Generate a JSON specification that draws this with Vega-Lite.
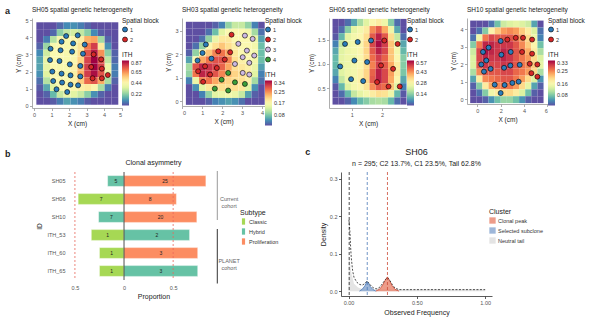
{
"$schema":"https://vega.github.io/schema/vega-lite/v6.json",
"padding":{"left":3,"top":6,"right":2,"bottom":2},
"background":"white",
"config":{
 "font":"Liberation Sans",
 "view":{"stroke":null},
 "axis":{"grid":false,"labelFontSize":5.5,"titleFontSize":6.5,"labelColor":"#555","titleColor":"#222","titleFontWeight":"normal","domainColor":"#999","tickColor":"#999","tickSize":2.5,"labelPadding":1.5,"titlePadding":3,"domainWidth":0.8,"tickWidth":0.8},
 "legend":{"titleFontSize":6.5,"labelFontSize":5.5,"titleFontWeight":"normal","titleColor":"#222","labelColor":"#333","rowPadding":2,"titlePadding":2,"offset":0,"padding":0,"symbolSize":25,"gradientLength":45,"gradientThickness":7,"labelOffset":2},
 "title":{"fontSize":6.5,"fontWeight":"normal","color":"#222"}
},
"datasets":{
"none":[],
"p1":[{"x":1.83,"y":4.07,"b":"1"},{"x":2.49,"y":4.11,"b":"1"},{"x":1.57,"y":3.74,"b":"1"},{"x":2.23,"y":3.64,"b":"1"},{"x":2.89,"y":3.57,"b":"1"},{"x":0.94,"y":3.33,"b":"1"},{"x":1.51,"y":3.24,"b":"1"},{"x":2.17,"y":3.16,"b":"1"},{"x":2.79,"y":3.04,"b":"1"},{"x":0.91,"y":2.67,"b":"1"},{"x":1.45,"y":2.62,"b":"1"},{"x":2.04,"y":2.42,"b":"1"},{"x":2.64,"y":2.33,"b":"1"},{"x":1.04,"y":2.0,"b":"1"},{"x":1.57,"y":1.88,"b":"1"},{"x":2.08,"y":1.78,"b":"1"},{"x":2.64,"y":1.72,"b":"1"},{"x":1.09,"y":1.45,"b":"1"},{"x":1.6,"y":1.36,"b":"1"},{"x":2.08,"y":1.24,"b":"1"},{"x":2.51,"y":1.2,"b":"1"},{"x":1.28,"y":0.97,"b":"1"},{"x":1.89,"y":0.81,"b":"1"},
{"x":3.4,"y":3.0,"b":"2"},{"x":3.83,"y":2.71,"b":"2"},{"x":3.26,"y":2.27,"b":"2"},{"x":3.87,"y":2.17,"b":"2"},{"x":4.21,"y":1.8,"b":"2"},{"x":3.34,"y":1.61,"b":"2"},{"x":3.87,"y":1.61,"b":"2"}],
"p2":[{"x":1.18,"y":2.42,"b":"1"},{"x":1.01,"y":2.06,"b":"1"},{"x":1.46,"y":1.82,"b":"1"},{"x":0.76,"y":1.74,"b":"1"},
{"x":2.47,"y":2.84,"b":"2"},{"x":1.8,"y":2.13,"b":"2"},{"x":2.4,"y":2.09,"b":"2"},{"x":2.13,"y":1.78,"b":"2"},{"x":1.14,"y":1.49,"b":"2"},{"x":1.73,"y":1.42,"b":"2"},{"x":0.79,"y":1.28,"b":"2"},{"x":1.39,"y":1.14,"b":"2"},{"x":1.04,"y":0.83,"b":"2"},
{"x":3.14,"y":2.8,"b":"3"},{"x":3.53,"y":2.66,"b":"3"},{"x":2.81,"y":2.45,"b":"3"},{"x":3.24,"y":2.16,"b":"3"},{"x":3.03,"y":1.88,"b":"3"},{"x":3.61,"y":1.95,"b":"3"},{"x":3.36,"y":1.64,"b":"3"},{"x":2.64,"y":1.59,"b":"3"},{"x":3.03,"y":1.21,"b":"3"},{"x":3.36,"y":1.14,"b":"3"},
{"x":2.3,"y":1.21,"b":"4"},{"x":1.97,"y":0.92,"b":"4"},{"x":2.64,"y":0.81,"b":"4"},{"x":3.14,"y":0.74,"b":"4"},{"x":1.63,"y":0.54,"b":"4"},{"x":2.3,"y":0.46,"b":"4"}],
"p3":[{"x":0.78,"y":1.41,"b":"1"},{"x":1.2,"y":1.45,"b":"1"},{"x":1.64,"y":1.48,"b":"1"},{"x":1.09,"y":1.07,"b":"1"},{"x":1.51,"y":1.04,"b":"1"},{"x":0.62,"y":0.95,"b":"1"},{"x":0.98,"y":0.69,"b":"1"},{"x":1.38,"y":0.65,"b":"1"},
{"x":2.08,"y":1.48,"b":"2"},{"x":2.52,"y":1.41,"b":"2"},{"x":1.97,"y":0.97,"b":"2"},{"x":2.37,"y":0.9,"b":"2"},{"x":1.84,"y":0.63,"b":"2"},{"x":2.22,"y":0.54,"b":"2"},{"x":2.59,"y":0.54,"b":"2"}],
"p4":[{"x":2.0,"y":3.34,"b":"1"},{"x":0.97,"y":2.96,"b":"1"},{"x":0.49,"y":2.71,"b":"1"},{"x":2.86,"y":2.71,"b":"1"},{"x":2.06,"y":2.55,"b":"1"},{"x":0.77,"y":2.22,"b":"1"},{"x":0.34,"y":1.99,"b":"1"},{"x":1.14,"y":1.74,"b":"1"},{"x":0.57,"y":1.58,"b":"1"},{"x":2.29,"y":1.8,"b":"1"},{"x":2.83,"y":1.93,"b":"1"},{"x":3.63,"y":1.97,"b":"1"},{"x":3.54,"y":1.0,"b":"1"},{"x":3.0,"y":0.93,"b":"1"},{"x":2.34,"y":0.81,"b":"1"},{"x":1.49,"y":0.83,"b":"1"},{"x":2.0,"y":0.35,"b":"1"},
{"x":2.57,"y":3.42,"b":"2"},{"x":3.29,"y":3.52,"b":"2"},{"x":3.91,"y":3.52,"b":"2"},{"x":4.69,"y":3.42,"b":"2"},{"x":3.83,"y":2.71,"b":"2"},{"x":4.69,"y":2.61,"b":"2"},{"x":4.49,"y":2.03,"b":"2"},{"x":5.14,"y":1.99,"b":"2"},{"x":4.63,"y":1.49,"b":"2"},{"x":5.14,"y":1.29,"b":"2"}],
"h1":[
{"x":0.1,"y":4.5,"v":0},{"x":0.49,"y":4.5,"v":0},{"x":0.88,"y":4.5,"v":0},{"x":1.27,"y":4.5,"v":0.04},{"x":1.66,"y":4.5,"v":0.09},{"x":2.05,"y":4.5,"v":0.1},{"x":2.44,"y":4.5,"v":0.07},{"x":2.83,"y":4.5,"v":0.03},{"x":3.22,"y":4.5,"v":0},{"x":3.61,"y":4.5,"v":0},{"x":4.0,"y":4.5,"v":0},{"x":4.39,"y":4.5,"v":0},
{"x":0.1,"y":4.1,"v":0},{"x":0.49,"y":4.1,"v":0},{"x":0.88,"y":4.1,"v":0.04},{"x":1.27,"y":4.1,"v":0.22},{"x":1.66,"y":4.1,"v":0.3},{"x":2.05,"y":4.1,"v":0.33},{"x":2.44,"y":4.1,"v":0.3},{"x":2.83,"y":4.1,"v":0.22},{"x":3.22,"y":4.1,"v":0.09},{"x":3.61,"y":4.1,"v":0.02},{"x":4.0,"y":4.1,"v":0},{"x":4.39,"y":4.1,"v":0},
{"x":0.1,"y":3.7,"v":0},{"x":0.49,"y":3.7,"v":0.07},{"x":0.88,"y":3.7,"v":0.28},{"x":1.27,"y":3.7,"v":0.42},{"x":1.66,"y":3.7,"v":0.43},{"x":2.05,"y":3.7,"v":0.44},{"x":2.44,"y":3.7,"v":0.47},{"x":2.83,"y":3.7,"v":0.6},{"x":3.22,"y":3.7,"v":0.62},{"x":3.61,"y":3.7,"v":0.25},{"x":4.0,"y":3.7,"v":0.03},{"x":4.39,"y":3.7,"v":0},
{"x":0.1,"y":3.3,"v":0.03},{"x":0.49,"y":3.3,"v":0.24},{"x":0.88,"y":3.3,"v":0.42},{"x":1.27,"y":3.3,"v":0.44},{"x":1.66,"y":3.3,"v":0.43},{"x":2.05,"y":3.3,"v":0.44},{"x":2.44,"y":3.3,"v":0.5},{"x":2.83,"y":3.3,"v":0.68},{"x":3.22,"y":3.3,"v":0.78},{"x":3.61,"y":3.3,"v":0.48},{"x":4.0,"y":3.3,"v":0.1},{"x":4.39,"y":3.3,"v":0},
{"x":0.1,"y":2.9,"v":0.09},{"x":0.49,"y":2.9,"v":0.32},{"x":0.88,"y":2.9,"v":0.43},{"x":1.27,"y":2.9,"v":0.43},{"x":1.66,"y":2.9,"v":0.42},{"x":2.05,"y":2.9,"v":0.43},{"x":2.44,"y":2.9,"v":0.52},{"x":2.83,"y":2.9,"v":0.74},{"x":3.22,"y":2.9,"v":0.83},{"x":3.61,"y":2.9,"v":0.65},{"x":4.0,"y":2.9,"v":0.22},{"x":4.39,"y":2.9,"v":0.03},
{"x":0.1,"y":2.5,"v":0.13},{"x":0.49,"y":2.5,"v":0.37},{"x":0.88,"y":2.5,"v":0.43},{"x":1.27,"y":2.5,"v":0.42},{"x":1.66,"y":2.5,"v":0.42},{"x":2.05,"y":2.5,"v":0.44},{"x":2.44,"y":2.5,"v":0.54},{"x":2.83,"y":2.5,"v":0.77},{"x":3.22,"y":2.5,"v":0.87},{"x":3.61,"y":2.5,"v":0.74},{"x":4.0,"y":2.5,"v":0.3},{"x":4.39,"y":2.5,"v":0.04},
{"x":0.1,"y":2.1,"v":0.13},{"x":0.49,"y":2.1,"v":0.37},{"x":0.88,"y":2.1,"v":0.43},{"x":1.27,"y":2.1,"v":0.42},{"x":1.66,"y":2.1,"v":0.42},{"x":2.05,"y":2.1,"v":0.46},{"x":2.44,"y":2.1,"v":0.58},{"x":2.83,"y":2.1,"v":0.78},{"x":3.22,"y":2.1,"v":0.87},{"x":3.61,"y":2.1,"v":0.77},{"x":4.0,"y":2.1,"v":0.39},{"x":4.39,"y":2.1,"v":0.07},
{"x":0.1,"y":1.7,"v":0.1},{"x":0.49,"y":1.7,"v":0.35},{"x":0.88,"y":1.7,"v":0.43},{"x":1.27,"y":1.7,"v":0.42},{"x":1.66,"y":1.7,"v":0.42},{"x":2.05,"y":1.7,"v":0.46},{"x":2.44,"y":1.7,"v":0.6},{"x":2.83,"y":1.7,"v":0.78},{"x":3.22,"y":1.7,"v":0.85},{"x":3.61,"y":1.7,"v":0.74},{"x":4.0,"y":1.7,"v":0.39},{"x":4.39,"y":1.7,"v":0.07},
{"x":0.1,"y":1.3,"v":0.05},{"x":0.49,"y":1.3,"v":0.28},{"x":0.88,"y":1.3,"v":0.42},{"x":1.27,"y":1.3,"v":0.43},{"x":1.66,"y":1.3,"v":0.43},{"x":2.05,"y":1.3,"v":0.46},{"x":2.44,"y":1.3,"v":0.55},{"x":2.83,"y":1.3,"v":0.71},{"x":3.22,"y":1.3,"v":0.74},{"x":3.61,"y":1.3,"v":0.61},{"x":4.0,"y":1.3,"v":0.26},{"x":4.39,"y":1.3,"v":0.03},
{"x":0.1,"y":0.9,"v":0.02},{"x":0.49,"y":0.9,"v":0.14},{"x":0.88,"y":0.9,"v":0.35},{"x":1.27,"y":0.9,"v":0.43},{"x":1.66,"y":0.9,"v":0.43},{"x":2.05,"y":0.9,"v":0.44},{"x":2.44,"y":0.9,"v":0.46},{"x":2.83,"y":0.9,"v":0.48},{"x":3.22,"y":0.9,"v":0.44},{"x":3.61,"y":0.9,"v":0.26},{"x":4.0,"y":0.9,"v":0.07},{"x":4.39,"y":0.9,"v":0},
{"x":0.1,"y":0.5,"v":0},{"x":0.49,"y":0.5,"v":0.03},{"x":0.88,"y":0.5,"v":0.17},{"x":1.27,"y":0.5,"v":0.31},{"x":1.66,"y":0.5,"v":0.38},{"x":2.05,"y":0.5,"v":0.36},{"x":2.44,"y":0.5,"v":0.31},{"x":2.83,"y":0.5,"v":0.22},{"x":3.22,"y":0.5,"v":0.1},{"x":3.61,"y":0.5,"v":0.03},{"x":4.0,"y":0.5,"v":0},{"x":4.39,"y":0.5,"v":0},
{"x":0.1,"y":0.1,"v":0},{"x":0.49,"y":0.1,"v":0},{"x":0.88,"y":0.1,"v":0.02},{"x":1.27,"y":0.1,"v":0.07},{"x":1.66,"y":0.1,"v":0.13},{"x":2.05,"y":0.1,"v":0.1},{"x":2.44,"y":0.1,"v":0.07},{"x":2.83,"y":0.1,"v":0.02},{"x":3.22,"y":0.1,"v":0},{"x":3.61,"y":0.1,"v":0},{"x":4.0,"y":0.1,"v":0},{"x":4.39,"y":0.1,"v":0}],
"h2":[
{"x":0.15,"y":3.115,"v":0},{"x":0.48,"y":3.115,"v":0},{"x":0.81,"y":3.115,"v":0},{"x":1.14,"y":3.115,"v":0},{"x":1.47,"y":3.115,"v":0.01},{"x":1.8,"y":3.115,"v":0.03},{"x":2.13,"y":3.115,"v":0.09},{"x":2.46,"y":3.115,"v":0.12},{"x":2.79,"y":3.115,"v":0.12},{"x":3.12,"y":3.115,"v":0.09},{"x":3.45,"y":3.115,"v":0.03},{"x":3.78,"y":3.115,"v":0},
{"x":0.15,"y":2.82,"v":0},{"x":0.48,"y":2.82,"v":0},{"x":0.81,"y":2.82,"v":0},{"x":1.14,"y":2.82,"v":0.02},{"x":1.47,"y":2.82,"v":0.07},{"x":1.8,"y":2.82,"v":0.14},{"x":2.13,"y":2.82,"v":0.17},{"x":2.46,"y":2.82,"v":0.17},{"x":2.79,"y":2.82,"v":0.17},{"x":3.12,"y":2.82,"v":0.16},{"x":3.45,"y":2.82,"v":0.1},{"x":3.78,"y":2.82,"v":0.02},
{"x":0.15,"y":2.525,"v":0},{"x":0.48,"y":2.525,"v":0},{"x":0.81,"y":2.525,"v":0.02},{"x":1.14,"y":2.525,"v":0.09},{"x":1.47,"y":2.525,"v":0.15},{"x":1.8,"y":2.525,"v":0.19},{"x":2.13,"y":2.525,"v":0.19},{"x":2.46,"y":2.525,"v":0.17},{"x":2.79,"y":2.525,"v":0.17},{"x":3.12,"y":2.525,"v":0.17},{"x":3.45,"y":2.525,"v":0.15},{"x":3.78,"y":2.525,"v":0.05},
{"x":0.15,"y":2.23,"v":0},{"x":0.48,"y":2.23,"v":0.02},{"x":0.81,"y":2.23,"v":0.09},{"x":1.14,"y":2.23,"v":0.17},{"x":1.47,"y":2.23,"v":0.2},{"x":1.8,"y":2.23,"v":0.22},{"x":2.13,"y":2.23,"v":0.2},{"x":2.46,"y":2.23,"v":0.18},{"x":2.79,"y":2.23,"v":0.17},{"x":3.12,"y":2.23,"v":0.17},{"x":3.45,"y":2.23,"v":0.16},{"x":3.78,"y":2.23,"v":0.07},
{"x":0.15,"y":1.935,"v":0.01},{"x":0.48,"y":1.935,"v":0.09},{"x":0.81,"y":1.935,"v":0.17},{"x":1.14,"y":1.935,"v":0.22},{"x":1.47,"y":1.935,"v":0.26},{"x":1.8,"y":1.935,"v":0.27},{"x":2.13,"y":1.935,"v":0.24},{"x":2.46,"y":1.935,"v":0.19},{"x":2.79,"y":1.935,"v":0.17},{"x":3.12,"y":1.935,"v":0.17},{"x":3.45,"y":1.935,"v":0.16},{"x":3.78,"y":1.935,"v":0.07},
{"x":0.15,"y":1.64,"v":0.05},{"x":0.48,"y":1.64,"v":0.17},{"x":0.81,"y":1.64,"v":0.24},{"x":1.14,"y":1.64,"v":0.27},{"x":1.47,"y":1.64,"v":0.29},{"x":1.8,"y":1.64,"v":0.29},{"x":2.13,"y":1.64,"v":0.26},{"x":2.46,"y":1.64,"v":0.2},{"x":2.79,"y":1.64,"v":0.18},{"x":3.12,"y":1.64,"v":0.17},{"x":3.45,"y":1.64,"v":0.16},{"x":3.78,"y":1.64,"v":0.07},
{"x":0.15,"y":1.345,"v":0.1},{"x":0.48,"y":1.345,"v":0.29},{"x":0.81,"y":1.345,"v":0.32},{"x":1.14,"y":1.345,"v":0.31},{"x":1.47,"y":1.345,"v":0.3},{"x":1.8,"y":1.345,"v":0.28},{"x":2.13,"y":1.345,"v":0.24},{"x":2.46,"y":1.345,"v":0.2},{"x":2.79,"y":1.345,"v":0.19},{"x":3.12,"y":1.345,"v":0.18},{"x":3.45,"y":1.345,"v":0.15},{"x":3.78,"y":1.345,"v":0.05},
{"x":0.15,"y":1.05,"v":0.09},{"x":0.48,"y":1.05,"v":0.27},{"x":0.81,"y":1.05,"v":0.32},{"x":1.14,"y":1.05,"v":0.31},{"x":1.47,"y":1.05,"v":0.29},{"x":1.8,"y":1.05,"v":0.26},{"x":2.13,"y":1.05,"v":0.23},{"x":2.46,"y":1.05,"v":0.21},{"x":2.79,"y":1.05,"v":0.2},{"x":3.12,"y":1.05,"v":0.19},{"x":3.45,"y":1.05,"v":0.14},{"x":3.78,"y":1.05,"v":0.03},
{"x":0.15,"y":0.755,"v":0.03},{"x":0.48,"y":0.755,"v":0.15},{"x":0.81,"y":0.755,"v":0.26},{"x":1.14,"y":0.755,"v":0.27},{"x":1.47,"y":0.755,"v":0.24},{"x":1.8,"y":0.755,"v":0.22},{"x":2.13,"y":0.755,"v":0.21},{"x":2.46,"y":0.755,"v":0.2},{"x":2.79,"y":0.755,"v":0.2},{"x":3.12,"y":0.755,"v":0.18},{"x":3.45,"y":0.755,"v":0.1},{"x":3.78,"y":0.755,"v":0.02},
{"x":0.15,"y":0.46,"v":0},{"x":0.48,"y":0.46,"v":0.04},{"x":0.81,"y":0.46,"v":0.14},{"x":1.14,"y":0.46,"v":0.19},{"x":1.47,"y":0.46,"v":0.2},{"x":1.8,"y":0.46,"v":0.2},{"x":2.13,"y":0.46,"v":0.2},{"x":2.46,"y":0.46,"v":0.2},{"x":2.79,"y":0.46,"v":0.19},{"x":3.12,"y":0.46,"v":0.14},{"x":3.45,"y":0.46,"v":0.04},{"x":3.78,"y":0.46,"v":0},
{"x":0.15,"y":0.165,"v":0},{"x":0.48,"y":0.165,"v":0},{"x":0.81,"y":0.165,"v":0.03},{"x":1.14,"y":0.165,"v":0.09},{"x":1.47,"y":0.165,"v":0.14},{"x":1.8,"y":0.165,"v":0.15},{"x":2.13,"y":0.165,"v":0.16},{"x":2.46,"y":0.165,"v":0.15},{"x":2.79,"y":0.165,"v":0.12},{"x":3.12,"y":0.165,"v":0.05},{"x":3.45,"y":0.165,"v":0.01},{"x":3.78,"y":0.165,"v":0},
{"x":0.15,"y":-0.13,"v":0},{"x":0.48,"y":-0.13,"v":0},{"x":0.81,"y":-0.13,"v":0},{"x":1.14,"y":-0.13,"v":0.01},{"x":1.47,"y":-0.13,"v":0.03},{"x":1.8,"y":-0.13,"v":0.04},{"x":2.13,"y":-0.13,"v":0.05},{"x":2.46,"y":-0.13,"v":0.04},{"x":2.79,"y":-0.13,"v":0.02},{"x":3.12,"y":-0.13,"v":0},{"x":3.45,"y":-0.13,"v":0},{"x":3.78,"y":-0.13,"v":0}],
"h3":[
{"x":0.35,"y":1.786,"v":0},{"x":0.554,"y":1.786,"v":0},{"x":0.758,"y":1.786,"v":0.03},{"x":0.962,"y":1.786,"v":0.09},{"x":1.166,"y":1.786,"v":0.17},{"x":1.37,"y":1.786,"v":0.23},{"x":1.574,"y":1.786,"v":0.29},{"x":1.778,"y":1.786,"v":0.31},{"x":1.982,"y":1.786,"v":0.26},{"x":2.186,"y":1.786,"v":0.14},{"x":2.39,"y":1.786,"v":0.03},{"x":2.594,"y":1.786,"v":0},
{"x":0.35,"y":1.64,"v":0},{"x":0.554,"y":1.64,"v":0.03},{"x":0.758,"y":1.64,"v":0.14},{"x":0.962,"y":1.64,"v":0.24},{"x":1.166,"y":1.64,"v":0.27},{"x":1.37,"y":1.64,"v":0.31},{"x":1.574,"y":1.64,"v":0.43},{"x":1.778,"y":1.64,"v":0.48},{"x":1.982,"y":1.64,"v":0.4},{"x":2.186,"y":1.64,"v":0.26},{"x":2.39,"y":1.64,"v":0.09},{"x":2.594,"y":1.64,"v":0},
{"x":0.35,"y":1.494,"v":0.01},{"x":0.554,"y":1.494,"v":0.11},{"x":0.758,"y":1.494,"v":0.24},{"x":0.962,"y":1.494,"v":0.27},{"x":1.166,"y":1.494,"v":0.29},{"x":1.37,"y":1.494,"v":0.34},{"x":1.574,"y":1.494,"v":0.48},{"x":1.778,"y":1.494,"v":0.54},{"x":1.982,"y":1.494,"v":0.48},{"x":2.186,"y":1.494,"v":0.34},{"x":2.39,"y":1.494,"v":0.2},{"x":2.594,"y":1.494,"v":0.03},
{"x":0.35,"y":1.348,"v":0.05},{"x":0.554,"y":1.348,"v":0.2},{"x":0.758,"y":1.348,"v":0.26},{"x":0.962,"y":1.348,"v":0.27},{"x":1.166,"y":1.348,"v":0.29},{"x":1.37,"y":1.348,"v":0.35},{"x":1.574,"y":1.348,"v":0.5},{"x":1.778,"y":1.348,"v":0.56},{"x":1.982,"y":1.348,"v":0.51},{"x":2.186,"y":1.348,"v":0.37},{"x":2.39,"y":1.348,"v":0.26},{"x":2.594,"y":1.348,"v":0.09},
{"x":0.35,"y":1.202,"v":0.09},{"x":0.554,"y":1.202,"v":0.23},{"x":0.758,"y":1.202,"v":0.26},{"x":0.962,"y":1.202,"v":0.27},{"x":1.166,"y":1.202,"v":0.29},{"x":1.37,"y":1.202,"v":0.35},{"x":1.574,"y":1.202,"v":0.48},{"x":1.778,"y":1.202,"v":0.54},{"x":1.982,"y":1.202,"v":0.5},{"x":2.186,"y":1.202,"v":0.37},{"x":2.39,"y":1.202,"v":0.27},{"x":2.594,"y":1.202,"v":0.11},
{"x":0.35,"y":1.056,"v":0.11},{"x":0.554,"y":1.056,"v":0.24},{"x":0.758,"y":1.056,"v":0.26},{"x":0.962,"y":1.056,"v":0.26},{"x":1.166,"y":1.056,"v":0.29},{"x":1.37,"y":1.056,"v":0.34},{"x":1.574,"y":1.056,"v":0.46},{"x":1.778,"y":1.056,"v":0.51},{"x":1.982,"y":1.056,"v":0.47},{"x":2.186,"y":1.056,"v":0.37},{"x":2.39,"y":1.056,"v":0.29},{"x":2.594,"y":1.056,"v":0.14},
{"x":0.35,"y":0.91,"v":0.11},{"x":0.554,"y":0.91,"v":0.24},{"x":0.758,"y":0.91,"v":0.26},{"x":0.962,"y":0.91,"v":0.27},{"x":1.166,"y":0.91,"v":0.29},{"x":1.37,"y":0.91,"v":0.34},{"x":1.574,"y":0.91,"v":0.44},{"x":1.778,"y":0.91,"v":0.51},{"x":1.982,"y":0.91,"v":0.48},{"x":2.186,"y":0.91,"v":0.4},{"x":2.39,"y":0.91,"v":0.31},{"x":2.594,"y":0.91,"v":0.14},
{"x":0.35,"y":0.764,"v":0.09},{"x":0.554,"y":0.764,"v":0.23},{"x":0.758,"y":0.764,"v":0.26},{"x":0.962,"y":0.764,"v":0.27},{"x":1.166,"y":0.764,"v":0.3},{"x":1.37,"y":0.764,"v":0.35},{"x":1.574,"y":0.764,"v":0.47},{"x":1.778,"y":0.764,"v":0.54},{"x":1.982,"y":0.764,"v":0.5},{"x":2.186,"y":0.764,"v":0.41},{"x":2.39,"y":0.764,"v":0.31},{"x":2.594,"y":0.764,"v":0.13},
{"x":0.35,"y":0.618,"v":0.05},{"x":0.554,"y":0.618,"v":0.2},{"x":0.758,"y":0.618,"v":0.26},{"x":0.962,"y":0.618,"v":0.27},{"x":1.166,"y":0.618,"v":0.3},{"x":1.37,"y":0.618,"v":0.35},{"x":1.574,"y":0.618,"v":0.48},{"x":1.778,"y":0.618,"v":0.54},{"x":1.982,"y":0.618,"v":0.5},{"x":2.186,"y":0.618,"v":0.4},{"x":2.39,"y":0.618,"v":0.29},{"x":2.594,"y":0.618,"v":0.09},
{"x":0.35,"y":0.472,"v":0.01},{"x":0.554,"y":0.472,"v":0.11},{"x":0.758,"y":0.472,"v":0.23},{"x":0.962,"y":0.472,"v":0.27},{"x":1.166,"y":0.472,"v":0.29},{"x":1.37,"y":0.472,"v":0.33},{"x":1.574,"y":0.472,"v":0.43},{"x":1.778,"y":0.472,"v":0.48},{"x":1.982,"y":0.472,"v":0.46},{"x":2.186,"y":0.472,"v":0.37},{"x":2.39,"y":0.472,"v":0.23},{"x":2.594,"y":0.472,"v":0.05},
{"x":0.35,"y":0.326,"v":0},{"x":0.554,"y":0.326,"v":0.03},{"x":0.758,"y":0.326,"v":0.11},{"x":0.962,"y":0.326,"v":0.2},{"x":1.166,"y":0.326,"v":0.24},{"x":1.37,"y":0.326,"v":0.27},{"x":1.574,"y":0.326,"v":0.31},{"x":1.778,"y":0.326,"v":0.34},{"x":1.982,"y":0.326,"v":0.33},{"x":2.186,"y":0.326,"v":0.26},{"x":2.39,"y":0.326,"v":0.11},{"x":2.594,"y":0.326,"v":0.01},
{"x":0.35,"y":0.18,"v":0},{"x":0.554,"y":0.18,"v":0},{"x":0.758,"y":0.18,"v":0.02},{"x":0.962,"y":0.18,"v":0.06},{"x":1.166,"y":0.18,"v":0.11},{"x":1.37,"y":0.18,"v":0.14},{"x":1.574,"y":0.18,"v":0.17},{"x":1.778,"y":0.18,"v":0.18},{"x":1.982,"y":0.18,"v":0.17},{"x":2.186,"y":0.18,"v":0.11},{"x":2.39,"y":0.18,"v":0.03},{"x":2.594,"y":0.18,"v":0}],
"h4":[
{"x":-0.65,"y":4.145,"v":0},{"x":-0.127,"y":4.145,"v":0},{"x":0.396,"y":4.145,"v":0},{"x":0.919,"y":4.145,"v":0.02},{"x":1.442,"y":4.145,"v":0.07},{"x":1.965,"y":4.145,"v":0.12},{"x":2.488,"y":4.145,"v":0.13},{"x":3.011,"y":4.145,"v":0.14},{"x":3.534,"y":4.145,"v":0.13},{"x":4.057,"y":4.145,"v":0.12},{"x":4.58,"y":4.145,"v":0.05},{"x":5.103,"y":4.145,"v":0},
{"x":-0.65,"y":3.75,"v":0},{"x":-0.127,"y":3.75,"v":0.02},{"x":0.396,"y":3.75,"v":0.08},{"x":0.919,"y":3.75,"v":0.17},{"x":1.442,"y":3.75,"v":0.21},{"x":1.965,"y":3.75,"v":0.24},{"x":2.488,"y":3.75,"v":0.25},{"x":3.011,"y":3.75,"v":0.24},{"x":3.534,"y":3.75,"v":0.21},{"x":4.057,"y":3.75,"v":0.18},{"x":4.58,"y":3.75,"v":0.13},{"x":5.103,"y":3.75,"v":0.02},
{"x":-0.65,"y":3.355,"v":0.02},{"x":-0.127,"y":3.355,"v":0.15},{"x":0.396,"y":3.355,"v":0.26},{"x":0.919,"y":3.355,"v":0.29},{"x":1.442,"y":3.355,"v":0.28},{"x":1.965,"y":3.355,"v":0.28},{"x":2.488,"y":3.355,"v":0.28},{"x":3.011,"y":3.355,"v":0.26},{"x":3.534,"y":3.355,"v":0.24},{"x":4.057,"y":3.355,"v":0.2},{"x":4.58,"y":3.355,"v":0.15},{"x":5.103,"y":3.355,"v":0.03},
{"x":-0.65,"y":2.96,"v":0.08},{"x":-0.127,"y":2.96,"v":0.26},{"x":0.396,"y":2.96,"v":0.31},{"x":0.919,"y":2.96,"v":0.31},{"x":1.442,"y":2.96,"v":0.3},{"x":1.965,"y":2.96,"v":0.3},{"x":2.488,"y":2.96,"v":0.3},{"x":3.011,"y":2.96,"v":0.28},{"x":3.534,"y":2.96,"v":0.25},{"x":4.057,"y":2.96,"v":0.21},{"x":4.58,"y":2.96,"v":0.17},{"x":5.103,"y":2.96,"v":0.07},
{"x":-0.65,"y":2.565,"v":0.12},{"x":-0.127,"y":2.565,"v":0.29},{"x":0.396,"y":2.565,"v":0.32},{"x":0.919,"y":2.565,"v":0.31},{"x":1.442,"y":2.565,"v":0.3},{"x":1.965,"y":2.565,"v":0.31},{"x":2.488,"y":2.565,"v":0.3},{"x":3.011,"y":2.565,"v":0.28},{"x":3.534,"y":2.565,"v":0.26},{"x":4.057,"y":2.565,"v":0.23},{"x":4.58,"y":2.565,"v":0.18},{"x":5.103,"y":2.565,"v":0.1},
{"x":-0.65,"y":2.17,"v":0.13},{"x":-0.127,"y":2.17,"v":0.29},{"x":0.396,"y":2.17,"v":0.31},{"x":0.919,"y":2.17,"v":0.3},{"x":1.442,"y":2.17,"v":0.3},{"x":1.965,"y":2.17,"v":0.31},{"x":2.488,"y":2.17,"v":0.3},{"x":3.011,"y":2.17,"v":0.28},{"x":3.534,"y":2.17,"v":0.26},{"x":4.057,"y":2.17,"v":0.24},{"x":4.58,"y":2.17,"v":0.2},{"x":5.103,"y":2.17,"v":0.13},
{"x":-0.65,"y":1.775,"v":0.13},{"x":-0.127,"y":1.775,"v":0.28},{"x":0.396,"y":1.775,"v":0.3},{"x":0.919,"y":1.775,"v":0.29},{"x":1.442,"y":1.775,"v":0.29},{"x":1.965,"y":1.775,"v":0.3},{"x":2.488,"y":1.775,"v":0.3},{"x":3.011,"y":1.775,"v":0.28},{"x":3.534,"y":1.775,"v":0.26},{"x":4.057,"y":1.775,"v":0.25},{"x":4.58,"y":1.775,"v":0.21},{"x":5.103,"y":1.775,"v":0.14},
{"x":-0.65,"y":1.38,"v":0.1},{"x":-0.127,"y":1.38,"v":0.25},{"x":0.396,"y":1.38,"v":0.28},{"x":0.919,"y":1.38,"v":0.28},{"x":1.442,"y":1.38,"v":0.28},{"x":1.965,"y":1.38,"v":0.29},{"x":2.488,"y":1.38,"v":0.29},{"x":3.011,"y":1.38,"v":0.27},{"x":3.534,"y":1.38,"v":0.26},{"x":4.057,"y":1.38,"v":0.24},{"x":4.58,"y":1.38,"v":0.2},{"x":5.103,"y":1.38,"v":0.1},
{"x":-0.65,"y":0.985,"v":0.05},{"x":-0.127,"y":0.985,"v":0.18},{"x":0.396,"y":0.985,"v":0.25},{"x":0.919,"y":0.985,"v":0.26},{"x":1.442,"y":0.985,"v":0.27},{"x":1.965,"y":0.985,"v":0.28},{"x":2.488,"y":0.985,"v":0.28},{"x":3.011,"y":0.985,"v":0.26},{"x":3.534,"y":0.985,"v":0.24},{"x":4.057,"y":0.985,"v":0.2},{"x":4.58,"y":0.985,"v":0.13},{"x":5.103,"y":0.985,"v":0.04},
{"x":-0.65,"y":0.59,"v":0.01},{"x":-0.127,"y":0.59,"v":0.08},{"x":0.396,"y":0.59,"v":0.18},{"x":0.919,"y":0.59,"v":0.23},{"x":1.442,"y":0.59,"v":0.25},{"x":1.965,"y":0.59,"v":0.26},{"x":2.488,"y":0.59,"v":0.26},{"x":3.011,"y":0.59,"v":0.24},{"x":3.534,"y":0.59,"v":0.2},{"x":4.057,"y":0.59,"v":0.14},{"x":4.58,"y":0.59,"v":0.05},{"x":5.103,"y":0.59,"v":0.01},
{"x":-0.65,"y":0.195,"v":0},{"x":-0.127,"y":0.195,"v":0.02},{"x":0.396,"y":0.195,"v":0.08},{"x":0.919,"y":0.195,"v":0.15},{"x":1.442,"y":0.195,"v":0.18},{"x":1.965,"y":0.195,"v":0.2},{"x":2.488,"y":0.195,"v":0.2},{"x":3.011,"y":0.195,"v":0.18},{"x":3.534,"y":0.195,"v":0.13},{"x":4.057,"y":0.195,"v":0.07},{"x":4.58,"y":0.195,"v":0.01},{"x":5.103,"y":0.195,"v":0},
{"x":-0.65,"y":-0.2,"v":0},{"x":-0.127,"y":-0.2,"v":0},{"x":0.396,"y":-0.2,"v":0.01},{"x":0.919,"y":-0.2,"v":0.04},{"x":1.442,"y":-0.2,"v":0.07},{"x":1.965,"y":-0.2,"v":0.09},{"x":2.488,"y":-0.2,"v":0.09},{"x":3.011,"y":-0.2,"v":0.07},{"x":3.534,"y":-0.2,"v":0.04},{"x":4.057,"y":-0.2,"v":0.01},{"x":4.58,"y":-0.2,"v":0},{"x":5.103,"y":-0.2,"v":0}],
"bars":[{"id":"SH05","sub":"Hybrid","p":-0.167,"n":5},{"id":"SH05","sub":"Proliferation","p":0.833,"n":25},{"id":"SH06","sub":"Classic","p":-0.467,"n":7},{"id":"SH06","sub":"Proliferation","p":0.533,"n":8},{"id":"SH10","sub":"Hybrid","p":-0.259,"n":7},{"id":"SH10","sub":"Proliferation","p":0.741,"n":20},{"id":"ITH_53","sub":"Classic","p":-0.333,"n":1},{"id":"ITH_53","sub":"Hybrid","p":0.667,"n":2},{"id":"ITH_60","sub":"Classic","p":-0.25,"n":1},{"id":"ITH_60","sub":"Proliferation","p":0.75,"n":3},{"id":"ITH_65","sub":"Classic","p":-0.25,"n":1},{"id":"ITH_65","sub":"Hybrid","p":0.75,"n":3}],
"thr":[{"r":-0.5},{"r":0.5}],
"zero":[{"r":0}],
"coh":[{"g":"Current","a":-0.05,"b":2.67,"bx":0.95,"tx":1.07,"ty":1.48,"t":"Current\ncohort"},{"g":"PLANET","a":3.17,"b":6.2,"bx":0.95,"tx":1.07,"ty":4.93,"t":"PLANET\ncohort"}],
"clu":[{"c":"Neutral tail","x":0,"d":0},{"c":"Neutral tail","x":0.002,"d":0.1},{"c":"Neutral tail","x":0.01,"d":0.08},{"c":"Neutral tail","x":0.02,"d":0.05},{"c":"Neutral tail","x":0.04,"d":0.02},{"c":"Neutral tail","x":0.07,"d":0.01},{"c":"Neutral tail","x":0.1,"d":0.006},{"c":"Neutral tail","x":0.15,"d":0.005},{"c":"Neutral tail","x":0.5,"d":0.005},{"c":"Neutral tail","x":1.0,"d":0.005},
{"c":"Selected subclone","x":0.08,"d":0},{"c":"Selected subclone","x":0.1,"d":0.005},{"c":"Selected subclone","x":0.12,"d":0.014},{"c":"Selected subclone","x":0.135,"d":0.026},{"c":"Selected subclone","x":0.145,"d":0.022},{"c":"Selected subclone","x":0.16,"d":0.012},{"c":"Selected subclone","x":0.18,"d":0.004},{"c":"Selected subclone","x":0.2,"d":0},
{"c":"Clonal peak","x":0.2,"d":0},{"c":"Clonal peak","x":0.23,"d":0.006},{"c":"Clonal peak","x":0.25,"d":0.016},{"c":"Clonal peak","x":0.27,"d":0.03},{"c":"Clonal peak","x":0.285,"d":0.038},{"c":"Clonal peak","x":0.3,"d":0.028},{"c":"Clonal peak","x":0.32,"d":0.014},{"c":"Clonal peak","x":0.34,"d":0.005},{"c":"Clonal peak","x":0.37,"d":0}],
"dens":[{"x":0.003,"d":0.19},{"x":0.01,"d":0.16},{"x":0.015,"d":0.12},{"x":0.02,"d":0.09},{"x":0.03,"d":0.055},{"x":0.04,"d":0.037},{"x":0.06,"d":0.024},{"x":0.08,"d":0.018},{"x":0.1,"d":0.016},{"x":0.12,"d":0.02},{"x":0.135,"d":0.027},{"x":0.15,"d":0.021},{"x":0.17,"d":0.012},{"x":0.19,"d":0.007},{"x":0.21,"d":0.006},{"x":0.23,"d":0.011},{"x":0.25,"d":0.021},{"x":0.27,"d":0.031},{"x":0.285,"d":0.036},{"x":0.3,"d":0.03},{"x":0.32,"d":0.018},{"x":0.34,"d":0.008},{"x":0.37,"d":0.004},{"x":0.4,"d":0.004},{"x":0.6,"d":0.004},{"x":0.8,"d":0.004},{"x":1.0,"d":0.004}],
"vl":[{"c":"Neutral tail","m":0.005},{"c":"Selected subclone","m":0.137},{"c":"Clonal peak","m":0.285}]
},
"resolve":{"scale":{"color":"independent","fill":"independent","stroke":"independent"},"legend":{"color":"independent","fill":"independent","stroke":"independent"}},
"spacing":20,
"vconcat":[
{"spacing":0,
 "resolve":{"scale":{"color":"independent","fill":"independent","stroke":"independent"},"legend":{"color":"independent","fill":"independent","stroke":"independent"}},
 "hconcat":[
 {"width":1,"height":1,"data":{"name":"none"},"mark":"point","encoding":{}},
 {"title":{"text":"a","orient":"left","angle":0,"anchor":"end","align":"right","baseline":"top","fontSize":9,"fontWeight":"bold","offset":1},
 "spacing":6,
 "resolve":{"scale":{"color":"independent","fill":"independent","stroke":"independent"},"legend":{"color":"independent","fill":"independent","stroke":"independent"}},
 "hconcat":[
 {"width":90,"height":90,"title":{"text":"SH05 spatial genetic heterogeneity","anchor":"start","frame":"group","offset":5},
  "layer":[
   {"data":{"name":"p1"},"mark":{"type":"point","filled":true,"size":25,"stroke":"black","strokeWidth":0.6,"opacity":1},
    "encoding":{"x":{"field":"x","type":"quantitative","scale":{"domain":[-0.12,5.02],"nice":false,"zero":false},"axis":{"values":[0,1,2,3,4,5],"format":"d","title":"X (cm)"}},
     "y":{"field":"y","type":"quantitative","scale":{"domain":[-0.12,5.12],"nice":false,"zero":false},"axis":{"values":[0,1,2,3,4,5],"format":"d","title":"Y (cm)"}},
     "color":{"field":"b","type":"nominal","scale":{"domain":["1","2"],"range":["#2b7bba","#d62728"]},"legend":{"title":"Spatial block","symbolStrokeColor":"black","symbolStrokeWidth":0.6}}}},
   {"data":{"name":"h1"},"mark":{"type":"rect","strokeWidth":0},
    "encoding":{"x":{"field":"x","type":"quantitative","bin":{"binned":true,"step":0.39},"axis":{"values":[0,1,2,3,4,5],"format":"d","title":"X (cm)"}},
     "y":{"field":"y","type":"quantitative","bin":{"binned":true,"step":0.4},"axis":{"values":[0,1,2,3,4,5],"format":"d","title":"Y (cm)"}},
     "fill":{"field":"v","type":"quantitative","scale":{"scheme":"spectral","reverse":true,"domain":[0,0.87]},"legend":{"type":"gradient","direction":"vertical","title":"ITH","values":[0.22,0.44,0.65,0.87],"format":".2f"}}}},
   {"data":{"name":"p1"},"mark":{"type":"point","filled":true,"size":25,"stroke":"black","strokeWidth":0.6,"opacity":1},
    "encoding":{"x":{"field":"x","type":"quantitative"},"y":{"field":"y","type":"quantitative"},"color":{"field":"b","type":"nominal"}}}
  ]},
 {"width":83,"height":88,"title":{"text":"SH03 spatial genetic heterogeneity","anchor":"start","frame":"group","offset":5},
  "layer":[
   {"data":{"name":"p2"},"mark":{"type":"point","filled":true,"size":25,"stroke":"black","strokeWidth":0.6,"opacity":1},
    "encoding":{"x":{"field":"x","type":"quantitative","scale":{"domain":[-0.02,4.15],"nice":false,"zero":false},"axis":{"values":[0,1,2,3,4],"format":"d","title":"X (cm)"}},
     "y":{"field":"y","type":"quantitative","scale":{"domain":[-0.2,3.55],"nice":false,"zero":false},"axis":{"values":[0,1,2,3],"format":"d","title":"Y (cm)"}},
     "color":{"field":"b","type":"nominal","scale":{"domain":["1","2","3","4"],"range":["#2b7bba","#d62728","#cdb9e3","#3a9e3a"]},"legend":{"title":"Spatial block","symbolStrokeColor":"black","symbolStrokeWidth":0.6}}}},
   {"data":{"name":"h2"},"mark":{"type":"rect","strokeWidth":0},
    "encoding":{"x":{"field":"x","type":"quantitative","bin":{"binned":true,"step":0.33},"axis":{"values":[0,1,2,3,4],"format":"d","title":"X (cm)"}},
     "y":{"field":"y","type":"quantitative","bin":{"binned":true,"step":0.295},"axis":{"values":[0,1,2,3],"format":"d","title":"Y (cm)"}},
     "fill":{"field":"v","type":"quantitative","scale":{"scheme":"spectral","reverse":true,"domain":[0,0.34]},"legend":{"type":"gradient","direction":"vertical","title":"ITH","values":[0.08,0.17,0.25,0.34],"format":".2f"}}}},
   {"data":{"name":"p2"},"mark":{"type":"point","filled":true,"size":25,"stroke":"black","strokeWidth":0.6,"opacity":1},
    "encoding":{"x":{"field":"x","type":"quantitative"},"y":{"field":"y","type":"quantitative"},"color":{"field":"b","type":"nominal"}}}
  ]},
 {"width":78,"height":90,"title":{"text":"SH06 spatial genetic heterogeneity","anchor":"start","frame":"group","offset":5},
  "layer":[
   {"data":{"name":"p3"},"mark":{"type":"point","filled":true,"size":25,"stroke":"black","strokeWidth":0.6,"opacity":1},
    "encoding":{"x":{"field":"x","type":"quantitative","scale":{"domain":[0.25,2.83],"nice":false,"zero":false},"axis":{"values":[1,2],"format":"d","title":"X (cm)"}},
     "y":{"field":"y","type":"quantitative","scale":{"domain":[0.1,1.94],"nice":false,"zero":false},"axis":{"values":[0.5,1,1.5],"format":".1f","title":"Y (cm)"}},
     "color":{"field":"b","type":"nominal","scale":{"domain":["1","2"],"range":["#2b7bba","#d62728"]},"legend":{"title":"Spatial block","symbolStrokeColor":"black","symbolStrokeWidth":0.6}}}},
   {"data":{"name":"h3"},"mark":{"type":"rect","strokeWidth":0},
    "encoding":{"x":{"field":"x","type":"quantitative","bin":{"binned":true,"step":0.204},"axis":{"values":[1,2],"format":"d","title":"X (cm)"}},
     "y":{"field":"y","type":"quantitative","bin":{"binned":true,"step":0.146},"axis":{"values":[0.5,1,1.5],"format":".1f","title":"Y (cm)"}},
     "fill":{"field":"v","type":"quantitative","scale":{"scheme":"spectral","reverse":true,"domain":[0,0.57]},"legend":{"type":"gradient","direction":"vertical","title":"ITH","values":[0.14,0.28,0.43,0.57],"format":".2f"}}}},
   {"data":{"name":"p3"},"mark":{"type":"point","filled":true,"size":25,"stroke":"black","strokeWidth":0.6,"opacity":1},
    "encoding":{"x":{"field":"x","type":"quantitative"},"y":{"field":"y","type":"quantitative"},"color":{"field":"b","type":"nominal"}}}
  ]},
 {"width":81,"height":86,"title":{"text":"SH10 spatial genetic heterogeneity","anchor":"start","frame":"group","offset":5},
  "layer":[
   {"data":{"name":"p4"},"mark":{"type":"point","filled":true,"size":25,"stroke":"black","strokeWidth":0.6,"opacity":1},
    "encoding":{"x":{"field":"x","type":"quantitative","scale":{"domain":[-0.88,6.05],"nice":false,"zero":false},"axis":{"values":[0,2,4,6],"format":"d","title":"X (cm)"}},
     "y":{"field":"y","type":"quantitative","scale":{"domain":[-0.28,4.66],"nice":false,"zero":false},"axis":{"values":[0,1,2,3,4],"format":"d","title":"Y (cm)"}},
     "color":{"field":"b","type":"nominal","scale":{"domain":["1","2"],"range":["#2b7bba","#d62728"]},"legend":{"title":"Spatial block","symbolStrokeColor":"black","symbolStrokeWidth":0.6}}}},
   {"data":{"name":"h4"},"mark":{"type":"rect","strokeWidth":0},
    "encoding":{"x":{"field":"x","type":"quantitative","bin":{"binned":true,"step":0.523},"axis":{"values":[0,2,4,6],"format":"d","title":"X (cm)"}},
     "y":{"field":"y","type":"quantitative","bin":{"binned":true,"step":0.395},"axis":{"values":[0,1,2,3,4],"format":"d","title":"Y (cm)"}},
     "fill":{"field":"v","type":"quantitative","scale":{"scheme":"spectral","reverse":true,"domain":[0,0.33]},"legend":{"type":"gradient","direction":"vertical","title":"ITH","values":[0.08,0.16,0.25,0.33],"format":".2f"}}}},
   {"data":{"name":"p4"},"mark":{"type":"point","filled":true,"size":25,"stroke":"black","strokeWidth":0.6,"opacity":1},
    "encoding":{"x":{"field":"x","type":"quantitative"},"y":{"field":"y","type":"quantitative"},"color":{"field":"b","type":"nominal"}}}
  ]}
 ]}
 ]},
{"spacing":0,
 "resolve":{"scale":{"color":"independent","fill":"independent","stroke":"independent"},"legend":{"color":"independent","fill":"independent","stroke":"independent"}},
 "hconcat":[
 {"width":1,"height":1,"data":{"name":"none"},"mark":"point","encoding":{}},
 {"spacing":26,
 "resolve":{"scale":{"color":"independent","fill":"independent","stroke":"independent"},"legend":{"color":"independent","fill":"independent","stroke":"independent"}},
 "hconcat":[
 {"title":{"text":"b","orient":"left","angle":0,"anchor":"end","align":"right","baseline":"top","fontSize":9,"fontWeight":"bold","offset":21},
  "hconcat":[
  {"width":167,"height":108,
   "title":{"text":["","Clonal asymmetry"],"anchor":"middle","fontSize":7,"offset":5,"lineHeight":9},
   "layer":[
    {"layer":[
     {"data":{"name":"bars"},"mark":{"type":"bar","stroke":"white","strokeWidth":0.4},
      "encoding":{"y":{"field":"id","type":"nominal","sort":["SH05","SH06","SH10","ITH_53","ITH_60","ITH_65"],"scale":{"paddingInner":0.4,"paddingOuter":0.2},"axis":{"title":"ID","domain":false,"ticks":false,"labelPadding":5,"titlePadding":4,"labelFontSize":5.5}},
       "x":{"field":"p","type":"quantitative","stack":null,"scale":{"domain":[-0.55,1.15],"nice":false,"zero":false},"axis":{"values":[-0.5,0,0.5],"labelExpr":"datum.value == 0 ? '0' : format(abs(datum.value), '.1f')","title":"Proportion","domain":false,"ticks":false,"labelPadding":5,"titleFontSize":7,"titlePadding":2}},
       "color":{"field":"sub","type":"nominal","scale":{"domain":["Classic","Hybrid","Proliferation"],"range":["#a6d854","#66c2a5","#fc8d62"]},"legend":{"title":"Subtype","orient":"none","legendX":170,"legendY":37,"symbolType":"M-0.5,-1H0.5V1H-0.5Z","symbolSize":40,"titleFontSize":7,"labelFontSize":5.5,"rowPadding":3,"symbolStrokeWidth":0}}}},
     {"data":{"name":"bars"},"transform":[{"calculate":"datum.p/2","as":"m"}],"mark":{"type":"text","fontSize":5,"color":"#222"},
      "encoding":{"y":{"field":"id","type":"nominal","sort":["SH05","SH06","SH10","ITH_53","ITH_60","ITH_65"]},"x":{"field":"m","type":"quantitative"},"text":{"field":"n"}}},
     {"data":{"name":"thr"},"mark":{"type":"rule","color":"#e8675a","strokeDash":[2,2],"strokeWidth":0.8},"encoding":{"x":{"field":"r","type":"quantitative"}}},
     {"data":{"name":"zero"},"mark":{"type":"rule","color":"#222","strokeWidth":0.8},"encoding":{"x":{"field":"r","type":"quantitative"}}}
    ]},
    {"layer":[
     {"data":{"name":"coh"},"mark":{"type":"rule","strokeWidth":1.2},
      "encoding":{"x":{"field":"bx","type":"quantitative"},"y":{"field":"a","type":"quantitative","scale":{"domain":[0,6],"reverse":true,"nice":false,"zero":false},"axis":null},"y2":{"field":"b"},
       "color":{"condition":{"test":"datum.g === 'Current'","value":"#aaaaaa"},"value":"#555555"}}},
     {"data":{"name":"coh"},"mark":{"type":"text","fontSize":5.5,"color":"#666","lineBreak":"\n","lineHeight":7},
      "encoding":{"x":{"field":"tx","type":"quantitative"},"y":{"field":"ty","type":"quantitative"},"text":{"field":"t"}}}
    ]}
   ],
   "resolve":{"scale":{"y":"independent"}}}
  ]},
 {"title":{"text":"c","orient":"left","angle":0,"anchor":"end","align":"right","baseline":"top","fontSize":9,"fontWeight":"bold","offset":4},
  "hconcat":[
  {"width":151,"height":124,
   "title":{"text":"SH06","subtitle":"n = 295; C2 13.7%, C1 23.5%, Tail 62.8%","fontSize":9,"subtitleFontSize":7,"subtitleColor":"#222","anchor":"middle","subtitlePadding":3,"offset":5},
   "layer":[
    {"data":{"name":"clu"},"mark":{"type":"area","opacity":0.8},
     "encoding":{"x":{"field":"x","type":"quantitative","scale":{"domain":[-0.055,1.05],"nice":false,"zero":false},"axis":{"values":[0,0.25,0.5,0.75,1],"format":".2f","title":"Observed Frequency","titleFontSize":7,"domainColor":"#333","tickColor":"#333"}},
      "y":{"field":"d","type":"quantitative","stack":null,"scale":{"domain":[-0.013,0.318],"nice":false,"zero":false},"axis":{"values":[0,0.1,0.2,0.3],"format":".1f","title":"Density","titleFontSize":7,"domainColor":"#333","tickColor":"#333"}},
      "color":{"field":"c","type":"nominal","scale":{"domain":["Clonal peak","Selected subclone","Neutral tail"],"range":["#e8836b","#86a5d0","#dddddd"]},"legend":{"title":"Cluster","orient":"none","legendX":148,"legendY":36,"symbolType":"square","symbolSize":40,"titleFontSize":7,"labelFontSize":5.5,"rowPadding":3,"symbolStrokeWidth":0}}}},
    {"data":{"name":"clu"},"transform":[{"filter":"datum.c !== 'Neutral tail'"}],"mark":{"type":"line","strokeWidth":0.8},
     "encoding":{"x":{"field":"x","type":"quantitative"},"y":{"field":"d","type":"quantitative"},
      "stroke":{"field":"c","type":"nominal","scale":{"domain":["Clonal peak","Selected subclone","Neutral tail"],"range":["#cc4b37","#4a78b8","#222222"]},"legend":null}}},
    {"data":{"name":"dens"},"mark":{"type":"line","strokeDash":[2,1.5],"color":"#222","strokeWidth":0.8},
     "encoding":{"x":{"field":"x","type":"quantitative"},"y":{"field":"d","type":"quantitative"}}},
    {"data":{"name":"vl"},"mark":{"type":"rule","strokeDash":[3,2],"strokeWidth":0.8},
     "encoding":{"x":{"field":"m","type":"quantitative"},"stroke":{"field":"c","type":"nominal","legend":null}}}
   ]}
  ]}
 ]}
 ]}
]
}
